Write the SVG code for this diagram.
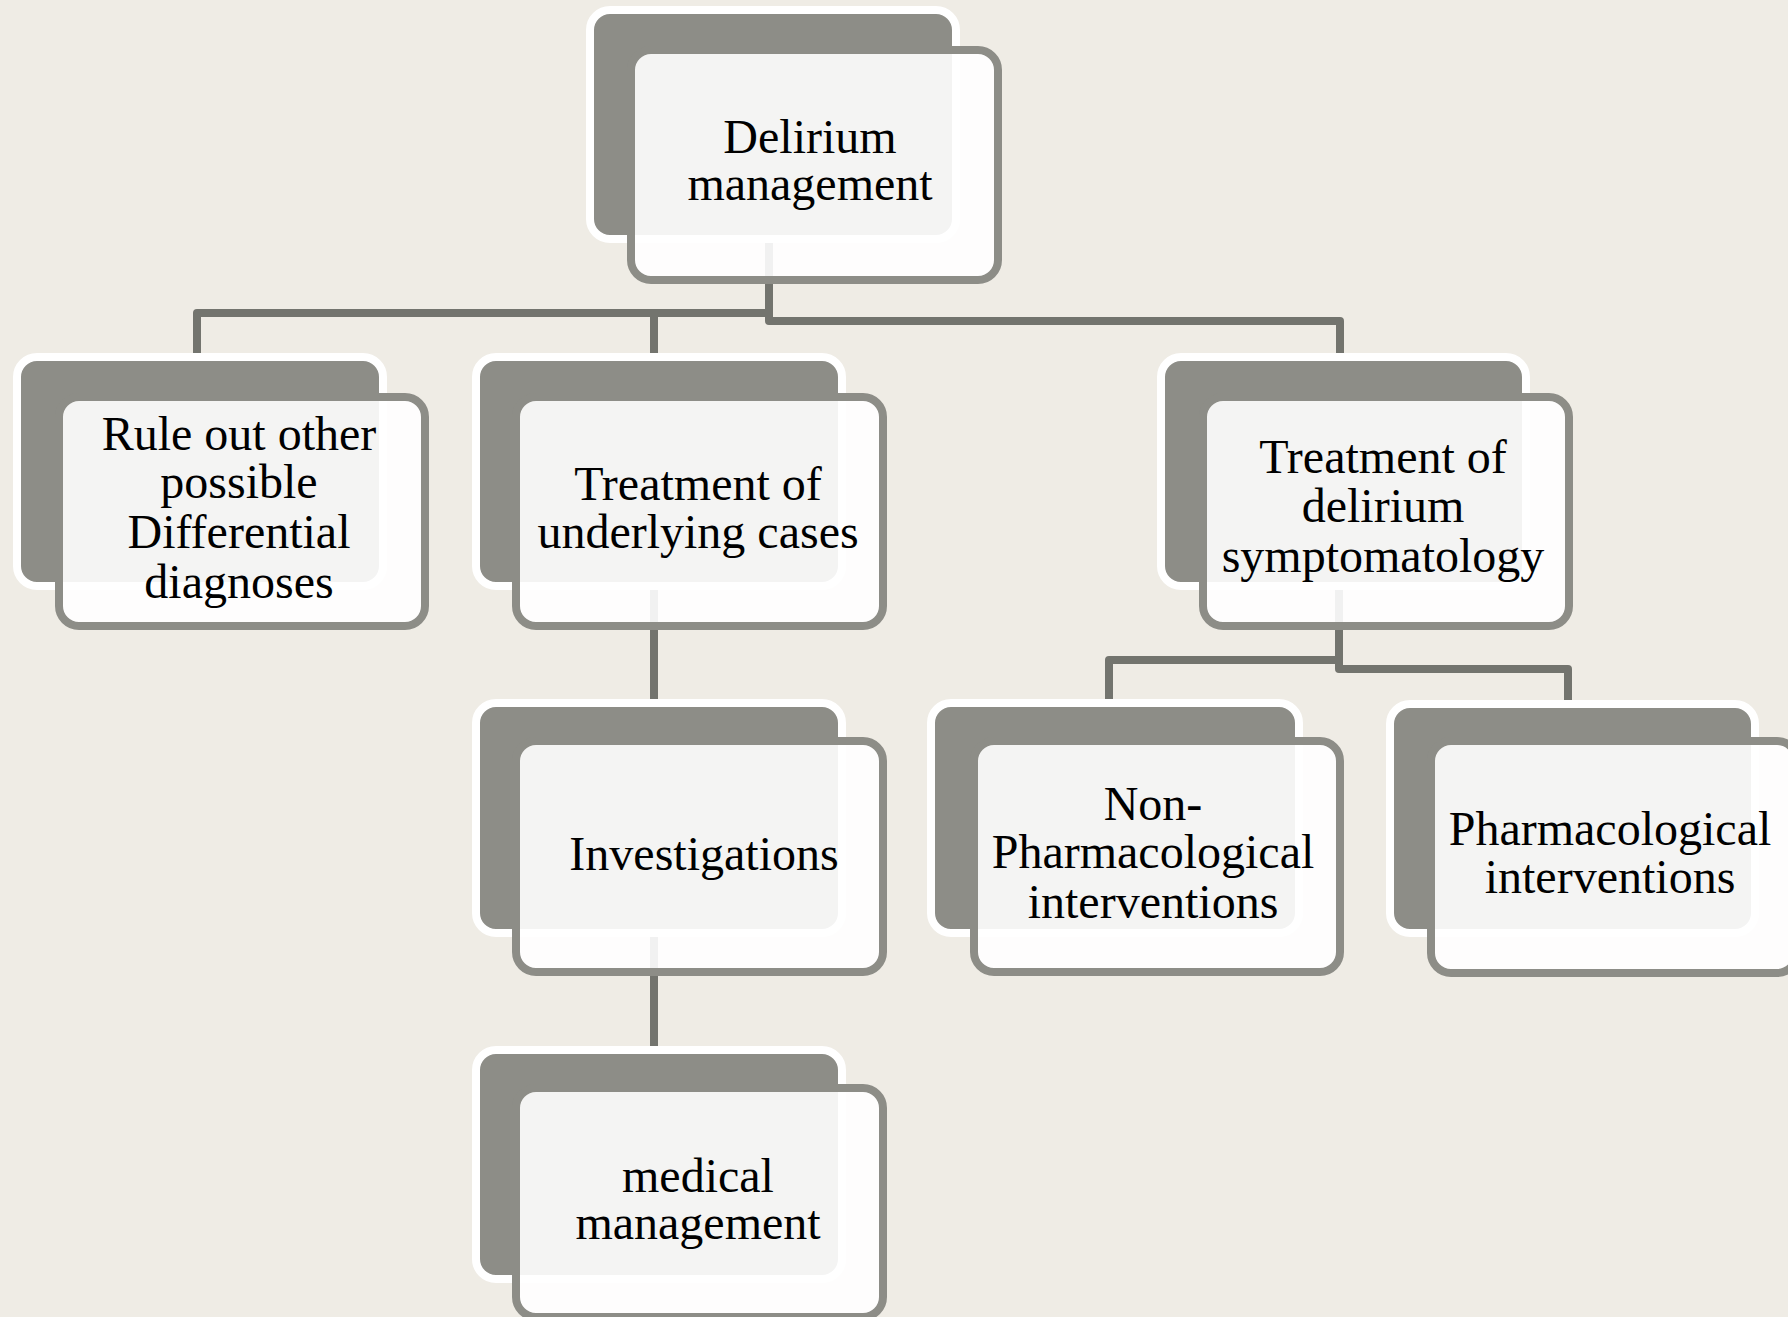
<svg xmlns="http://www.w3.org/2000/svg" width="1788" height="1317" viewBox="0 0 1788 1317">
  <style>
    .back { fill: #8d8d87; stroke: #ffffff; stroke-width: 8; }
    .front { fill: #ffffff; fill-opacity: 0.9; stroke: #8d8d87; stroke-width: 8; }
    .conn { fill: none; stroke: #73746e; stroke-width: 8; stroke-linejoin: round; }
    .lbl { font-family: "Liberation Serif", "Times New Roman", serif; font-size: 48px; fill: #000000; text-anchor: middle; }
  </style>
  <rect x="0" y="0" width="1788" height="1317" fill="#efece5"/>

  <g id="connectors">
    <path class="conn" d="M769,200 V313 H197 V357"/>
    <path class="conn" d="M654,313 V360"/>
    <path class="conn" d="M769,200 V321 H1340 V360"/>
    <path class="conn" d="M654,560 V706"/>
    <path class="conn" d="M654,900 V1053"/>
    <path class="conn" d="M1339,560 V660 H1109 V706"/>
    <path class="conn" d="M1339,560 V669 H1568 V706"/>
  </g>

  <g id="n0">
    <rect class="back" x="590" y="10" width="366" height="229" rx="20"/>
    <rect class="front" x="631" y="50" width="367" height="230" rx="20"/>
    <text class="lbl" x="810" y="153">Delirium</text>
    <text class="lbl" x="810" y="200">management</text>
  </g>

  <g id="n1">
    <rect class="back" x="17" y="357" width="366" height="229" rx="20"/>
    <rect class="front" x="59" y="397" width="366" height="229" rx="20"/>
    <text class="lbl" x="239" y="450">Rule out other</text>
    <text class="lbl" x="239" y="498">possible</text>
    <text class="lbl" x="239" y="548">Differential</text>
    <text class="lbl" x="239" y="598">diagnoses</text>
  </g>

  <g id="n2">
    <rect class="back" x="476" y="357" width="366" height="229" rx="20"/>
    <rect class="front" x="516" y="397" width="367" height="229" rx="20"/>
    <text class="lbl" x="698" y="500">Treatment of</text>
    <text class="lbl" x="698" y="548">underlying cases</text>
  </g>

  <g id="n3">
    <rect class="back" x="1161" y="357" width="365" height="229" rx="20"/>
    <rect class="front" x="1203" y="397" width="366" height="229" rx="20"/>
    <text class="lbl" x="1383" y="473">Treatment of</text>
    <text class="lbl" x="1383" y="522">delirium</text>
    <text class="lbl" x="1383" y="572">symptomatology</text>
  </g>

  <g id="n4">
    <rect class="back" x="476" y="703" width="366" height="230" rx="20"/>
    <rect class="front" x="516" y="741" width="367" height="231" rx="20"/>
    <text class="lbl" x="704" y="870">Investigations</text>
  </g>

  <g id="n5">
    <rect class="back" x="931" y="703" width="368" height="230" rx="20"/>
    <rect class="front" x="974" y="741" width="366" height="231" rx="20"/>
    <text class="lbl" x="1153" y="820">Non-</text>
    <text class="lbl" x="1153" y="868">Pharmacological</text>
    <text class="lbl" x="1153" y="918">interventions</text>
  </g>

  <g id="n6">
    <rect class="back" x="1390" y="704" width="365" height="229" rx="20"/>
    <rect class="front" x="1431" y="741" width="366" height="232" rx="20"/>
    <text class="lbl" x="1610" y="845">Pharmacological</text>
    <text class="lbl" x="1610" y="893">interventions</text>
  </g>

  <g id="n7">
    <rect class="back" x="476" y="1050" width="366" height="229" rx="20"/>
    <rect class="front" x="516" y="1088" width="367" height="229" rx="20"/>
    <text class="lbl" x="698" y="1192">medical</text>
    <text class="lbl" x="698" y="1239">management</text>
  </g>
</svg>
